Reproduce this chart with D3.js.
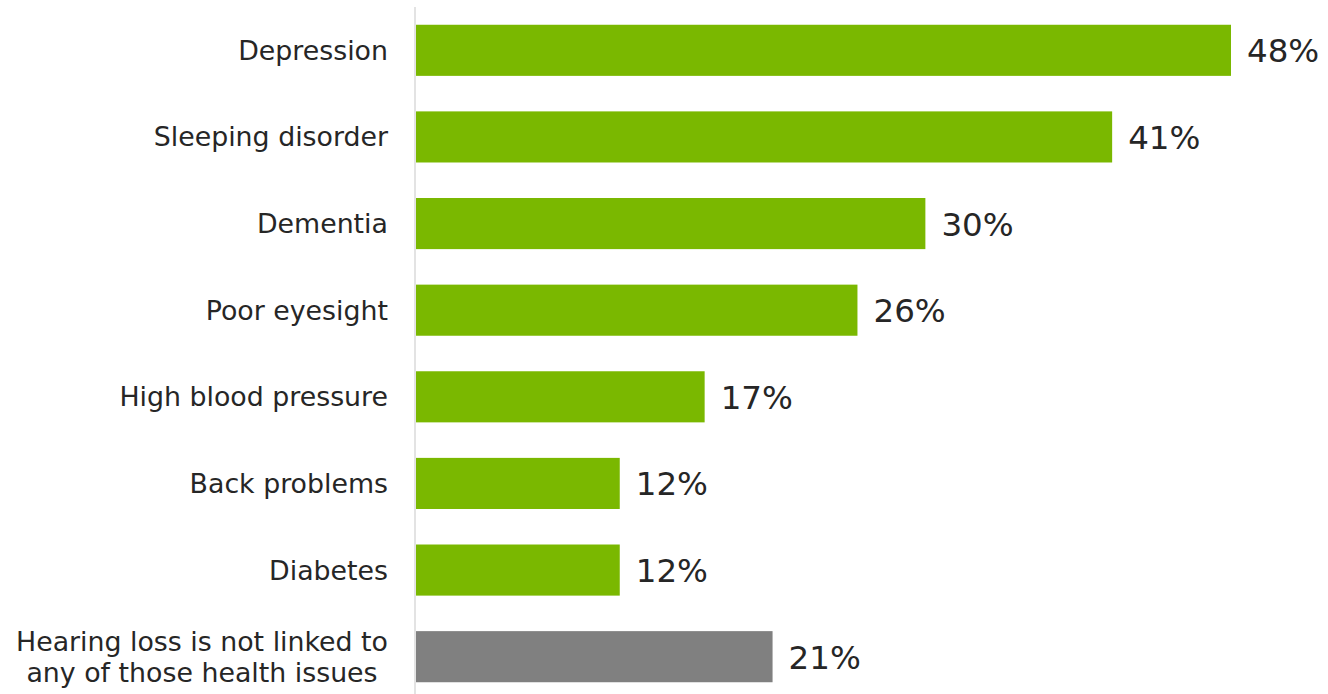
<!DOCTYPE html>
<html>
<head>
<meta charset="utf-8">
<script src="https://cdn.jsdelivr.net/npm/d3@7"></script>
<style>
  html, body { margin: 0; padding: 0; background: #fff; }
  svg { display: block; }
  text { font-family: "DejaVu Sans", Verdana, sans-serif; fill: #262626; }
</style>
</head>
<body>
<svg id="chart" width="1328" height="694"></svg>
<script>
// Health issues linked to hearing loss (share of respondents, %)
const categories = [
  "Depression",
  "Sleeping disorder",
  "Dementia",
  "Poor eyesight",
  "High blood pressure",
  "Back problems",
  "Diabetes",
  "Hearing loss is not linked to\nany of those health issues"
];
const values = [48, 41, 30, 26, 17, 12, 12, 21];
const barColors = ["#7ab800", "#7ab800", "#7ab800", "#7ab800", "#7ab800", "#7ab800", "#7ab800", "#808080"];

const svg = d3.select("#chart");
const width = 1328, height = 694;
const axisX = 415;

const x = d3.scaleLinear().domain([0, 48]).range([axisX + 1, 1231]);
const y = d3.scaleBand()
  .domain(categories)
  .range([7, 700])
  .paddingInner(0.41)
  .paddingOuter(0.205);

// vertical baseline
svg.append("line")
  .attr("x1", axisX).attr("x2", axisX)
  .attr("y1", 7).attr("y2", height)
  .attr("stroke", "#e3e3e3").attr("stroke-width", 2);

// bars
svg.selectAll("rect.bar")
  .data(categories)
  .join("rect")
  .attr("class", "bar")
  .attr("x", x(0))
  .attr("y", d => y(d))
  .attr("width", (d, i) => x(values[i]) - x(0))
  .attr("height", y.bandwidth())
  .attr("fill", (d, i) => barColors[i]);

// value labels
svg.selectAll("text.val")
  .data(categories)
  .join("text")
  .attr("class", "val")
  .attr("x", (d, i) => x(values[i]) + 16)
  .attr("y", d => y(d) + y.bandwidth() / 2 + 12)
  .attr("font-size", 32.5)
  .text((d, i) => values[i] + "%");

// category labels
const labelRight = 388;
const lineH = 31;
categories.forEach(cat => {
  const lines = cat.split("\n");
  const cy = y(cat) + y.bandwidth() / 2;
  const g = svg.append("g");
  const texts = lines.map((ln, k) => g.append("text")
    .attr("font-size", 26.8)
    .attr("y", cy + 9.5 + (k - (lines.length - 1) / 2) * lineH)
    .text(ln));
  const maxW = d3.max(texts, t => t.node().getComputedTextLength());
  texts.forEach(t => t.attr("x", labelRight - maxW / 2).attr("text-anchor", "middle"));
});
</script>
</body>
</html>
